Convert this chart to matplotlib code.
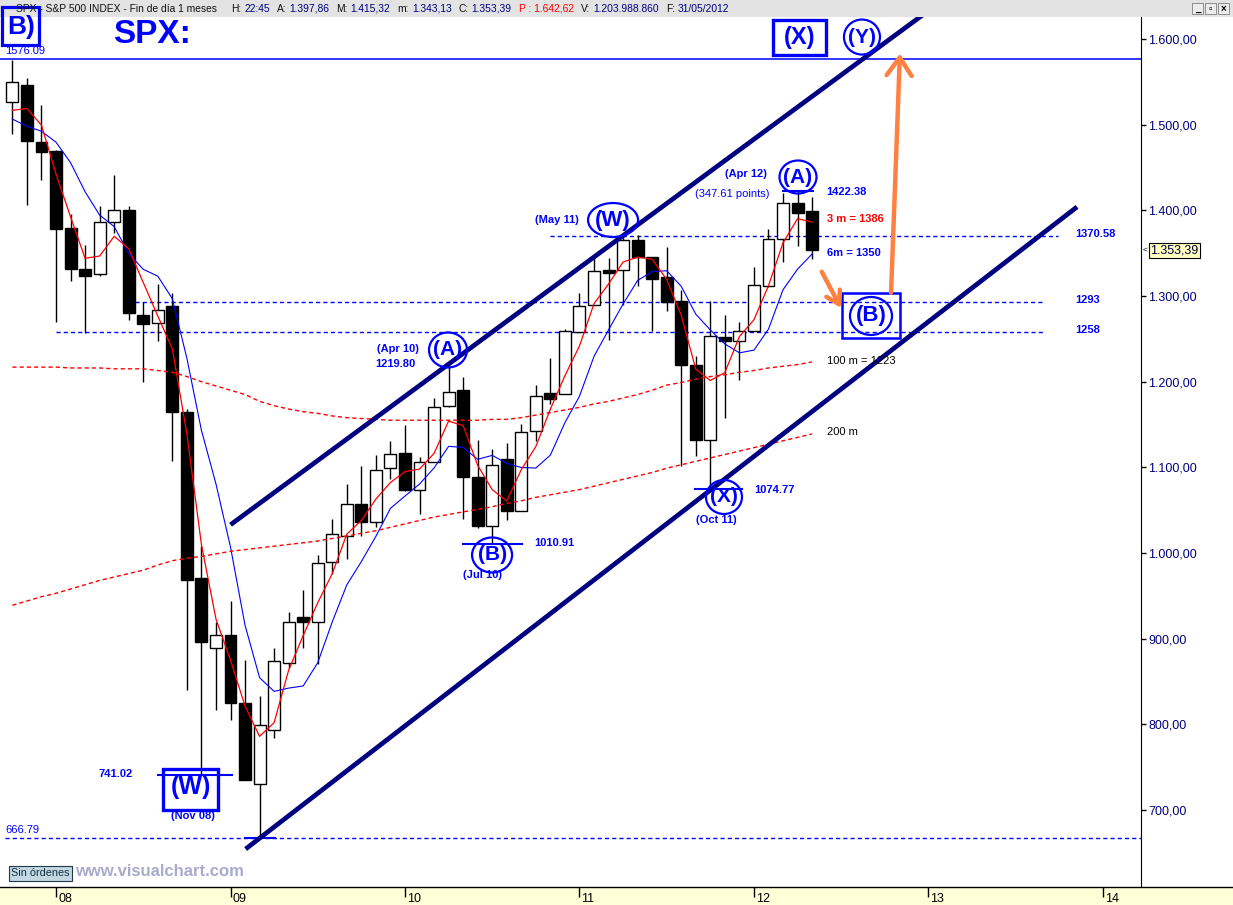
import numpy as np
import pandas as pd
import matplotlib
matplotlib.use('Agg')
import matplotlib.pyplot as plt
from matplotlib.patches import Rectangle, Ellipse
from matplotlib.lines import Line2D

plt.rcParams['font.family'] = ['Liberation Sans', 'DejaVu Sans']

# ---------------- data (monthly SPX candles, Oct 2007 .. May 2012) ----------------
months = pd.period_range('2007-10', '2012-05', freq='M').astype(str).tolist()
opens = [1527, 1546, 1479, 1468, 1379, 1331, 1326, 1386, 1400, 1277, 1269, 1288,
         1164, 970, 889, 903, 824, 730, 794, 872, 924, 920, 990, 1020,
         1056, 1036, 1099, 1116, 1074, 1106, 1172, 1189, 1088, 1031, 1109, 1049,
         1143, 1186, 1186, 1258, 1289, 1329, 1330, 1365, 1345, 1321, 1293, 1219,
         1132, 1251, 1247, 1259, 1312, 1366, 1408, 1397.86]
highs = [1576, 1554, 1523, 1471, 1396, 1360, 1405, 1441, 1405, 1293, 1314, 1303,
         1168, 1008, 919, 944, 875, 833, 889, 931, 957, 998, 1040, 1081,
         1102, 1114, 1131, 1150, 1112, 1181, 1220, 1205, 1132, 1121, 1129, 1151,
         1196, 1228, 1262, 1303, 1344, 1344, 1372, 1371, 1346, 1357, 1307, 1230,
         1294, 1278, 1270, 1334, 1378, 1420, 1422, 1415.32]
lows = [1489, 1406, 1435, 1270, 1317, 1257, 1323, 1373, 1272, 1200, 1248, 1107,
        840, 742, 817, 805, 735, 667, 784, 866, 889, 870, 976, 993,
        1020, 1030, 1086, 1072, 1045, 1106, 1170, 1040, 1029, 1011, 1039, 1049,
        1131, 1174, 1186, 1258, 1289, 1249, 1290, 1312, 1259, 1283, 1101, 1113,
        1075, 1158, 1202, 1259, 1311, 1340, 1358, 1343.13]
closes = [1549, 1481, 1468, 1378, 1331, 1323, 1386, 1400, 1280, 1267, 1283, 1165,
          969, 896, 904, 825, 735, 798, 873, 919, 919, 988, 1021, 1057,
          1036, 1096, 1115, 1074, 1105, 1170, 1187, 1089, 1031, 1102, 1049, 1141,
          1183, 1180, 1258, 1287, 1328, 1327, 1364, 1345, 1320, 1293, 1219, 1132,
          1253, 1247, 1258, 1312, 1366, 1408, 1397, 1353.39]
# closes Apr-Sep 2007 (needed for the start of the 3 and 6 month averages)
prior_closes = [1482, 1531, 1503, 1455, 1474, 1527]

# long averages ("100 m" and "200 m"), one value per candle
ma100 = [1217, 1217, 1217, 1217, 1216, 1216, 1216, 1215, 1215, 1215, 1213, 1211,
         1206, 1200, 1195, 1190, 1185, 1177, 1172, 1168, 1165, 1163, 1160, 1158,
         1157, 1156, 1155, 1155, 1155, 1155, 1155, 1155, 1155, 1156, 1156, 1158,
         1161, 1164, 1167, 1170, 1174, 1177, 1181, 1185, 1190, 1196, 1199, 1203,
         1206, 1208, 1211, 1213, 1216, 1218, 1220, 1223]
ma200 = [939, 944, 949, 953, 958, 963, 968, 972, 976, 980, 986, 991,
         994, 996, 999, 1002, 1004, 1006, 1008, 1010, 1012, 1014, 1017, 1020,
         1023, 1026, 1030, 1034, 1038, 1042, 1045, 1048, 1051, 1054, 1058, 1061,
         1065, 1068, 1071, 1074, 1078, 1082, 1086, 1090, 1094, 1099, 1103, 1107,
         1111, 1115, 1119, 1123, 1127, 1131, 1135, 1139]

year_ticks = [3, 15, 27, 39, 51, 63, 75]
year_labels = ['08', '09', '10', '11', '12', '13', '14']
price_ticks = [700, 800, 900, 1000, 1100, 1200, 1300, 1400, 1500, 1600]

# channel lines: (month index, price) anchors
upper_channel_x = [15.0, 62.6]
upper_channel_y = [1033, 1628]
lower_channel_x = [16.04, 73.22]
lower_channel_y = [654.5, 1404]

# ---------------- figure ----------------
W, H = 1233, 905
fig = plt.figure(figsize=(W / 100, H / 100), dpi=100)
fig.patch.set_facecolor('white')
AX_R, AX_B = 1141, 887
ax = fig.add_axes([0, 1 - AX_B / H, AX_R / W, AX_B / H])
PXM = 14.54      # pixels per month
PYP = 0.8567     # pixels per index point
ax.set_xlim(-12.4 / PXM, (AX_R - 12.4) / PXM)
ax.set_ylim(1600 - (AX_B - 39) / PYP, 1600 + 39 / PYP)

idx = np.arange(len(closes))
o = np.array(opens, float); h = np.array(highs, float)
l = np.array(lows, float); c = np.array(closes, float)

# wicks and bodies
ax.vlines(idx, l, h, color='black', lw=1, zorder=3)
up = c >= o
ax.bar(idx, np.abs(c - o) + 0.8, bottom=np.minimum(o, c), width=0.82,
       color=np.where(up, 'white', 'black'), edgecolor='black', lw=1, zorder=3.5)

# moving averages
allc = pd.Series(prior_closes + closes, dtype=float)
ma3 = allc.rolling(3).mean().values[len(prior_closes):]
ma6 = allc.rolling(6).mean().values[len(prior_closes):]
ax.plot(idx, ma6, color='#0000ff', lw=0.8, zorder=4)
ax.plot(idx, ma3, color='#ff0000', lw=0.9, zorder=4.2)
ax.plot(idx, ma100, color='#ff0000', lw=1, dashes=(3, 2.2), zorder=4)
ax.plot(idx, ma200, color='#ff0000', lw=1, dashes=(3, 2.2), zorder=4)

# levels
blue = '#0000ff'
ax.axhline(1576.09, color=blue, lw=1.1, zorder=2)
for lvl, x0, x1 in [(1370.58, 36.97, 71.9), (1293, 8.43, 70.9), (1258, 3.0, 70.9),
                    (666.79, -0.5, 77.6)]:
    ax.plot([x0, x1], [lvl, lvl], color=blue, lw=1, dashes=(3, 2.2), zorder=2.5)
for lvl, x0, x1 in [(741.02, 10.0, 15.1), (666.79, 16.0, 18.06), (1010.91, 31.0, 35.05),
                    (1074.77, 46.95, 50.18), (1422.38, 53.0, 55.06)]:
    ax.plot([x0, x1], [lvl, lvl], color=blue, lw=1.5, zorder=5)

# channels
navy = '#000080'
ax.plot(upper_channel_x, upper_channel_y, color=navy, lw=3.4, solid_capstyle='butt', zorder=6)
ax.plot(lower_channel_x, lower_channel_y, color=navy, lw=3.4, solid_capstyle='butt', zorder=6)

# ---------------- annotations ----------------
def ell(x, y, wpx, hpx):
    ax.add_patch(Ellipse((x, y), wpx / PXM, hpx / PYP, fill=False, ec=blue, lw=1.6, zorder=7))

def box(x0, x1, y0, y1, lw=2.2):
    ax.add_patch(Rectangle((x0, y0), x1 - x0, y1 - y0, fill=False, ec=blue, lw=lw,
                           zorder=7, clip_on=False))

def txt(x, y, s, size=8, bold=True, color=blue, ha='center'):
    ax.text(x, y, s, fontsize=size, fontweight='bold' if bold else 'normal', color=color,
            ha=ha, va='center', zorder=8)

# top
box(52.31, 55.96, 1581.3, 1622.2, lw=2.4)
txt(54.13, 1601.7, '(X)', size=17)
ell(58.43, 1602.3, 36, 35)
txt(58.43, 1602.3, '(Y)', size=15)
txt(9.6, 1605.8, 'SPX:', size=24)
txt(-0.51, 1586, '1576.09', bold=False, ha='left')

# (W) May 11
ell(41.31, 1388.7, 50, 34)
txt(41.31, 1388.7, '(W)', size=16)
txt(37.45, 1388.7, '(May 11)')
# (A) Apr 10
ell(29.96, 1237.0, 38, 35)
txt(29.96, 1237.0, '(A)', size=15)
txt(26.52, 1238.1, '(Apr 10)')
txt(26.31, 1220.3, '1219.80')
# (B) Jul 10
ell(32.99, 997.7, 40, 35)
txt(32.99, 997.7, '(B)', size=15)
txt(32.3, 974.3, '(Jul 10)')
txt(37.3, 1011.3, '1010.91')
# (X) Oct 11
ell(48.94, 1065.4, 36, 34)
txt(48.94, 1065.4, '(X)', size=15)
txt(48.39, 1038.5, '(Oct 11)')
txt(52.38, 1073.6, '1074.77')
# (A) Apr 12
ell(54.03, 1438.9, 37, 33)
txt(54.03, 1438.9, '(A)', size=15)
txt(50.45, 1442.1, '(Apr 12)')
txt(49.49, 1419.1, '(347.61 points)', bold=False)
txt(57.33, 1421.8, '1422.38')
txt(56.0, 1389.9, '3 m = 1386', color='#ff0000', ha='left')
txt(56.0, 1350.6, '6m = 1350', ha='left')
txt(73.08, 1372.4, '1370.58', ha='left')
txt(73.08, 1295.3, '1293', ha='left')
txt(73.08, 1260.3, '1258', ha='left')
txt(56.0, 1223.8, '100 m = 1223', bold=False, color='black', ha='left')
txt(56.0, 1141.6, '200 m', bold=False, color='black', ha='left')
# (B) target box
box(57.06, 61.05, 1251.0, 1303.5, lw=1.8)
ell(59.05, 1276.7, 42, 38)
txt(59.05, 1276.7, '(B)', size=16)
# (W) Nov 08
box(10.36, 14.14, 700.0, 747.9, lw=2.4)
txt(12.25, 726.9, '(W)', size=18)
txt(12.4, 692.5, '(Nov 08)')
txt(7.12, 742, '741.02')
txt(-0.51, 676.7, '666.79', bold=False, ha='left')

# orange arrows
orange = '#ff8040'
ax.annotate('', xy=(61.04, 1583), xytext=(60.43, 1303.9),
            arrowprops=dict(arrowstyle='->,head_length=1.3,head_width=0.9', color=orange,
                            lw=3.2, shrinkA=0, shrinkB=0), zorder=8)
ax.annotate('', xy=(56.99, 1286), xytext=(55.66, 1328.4),
            arrowprops=dict(arrowstyle='->,head_length=0.9,head_width=0.55', color=orange,
                            lw=3.2, shrinkA=0, shrinkB=0), zorder=8)

# ---------------- axes styling ----------------
for s in ['top', 'left']:
    ax.spines[s].set_visible(False)
ax.spines['right'].set_color('black')
ax.spines['bottom'].set_visible(False)
ax.yaxis.tick_right()
ax.set_yticks(price_ticks)
ax.set_yticklabels([f"{v:,.2f}".replace(',', 'X').replace('.', ',').replace('X', '.')
                    for v in price_ticks])
ax.tick_params(axis='y', direction='out', length=3.8, width=1, colors='black',
               labelcolor='#000080', labelsize=9, pad=1.5)
ax.set_xticks(year_ticks)
ax.set_xticklabels([''] * len(year_ticks))
ax.tick_params(axis='x', direction='out', length=7, width=1, colors='black')
for t, lab in zip(year_ticks, year_labels):
    ax.annotate(lab, xy=(t, 0), xycoords=ax.get_xaxis_transform(), xytext=(2, -6),
                textcoords='offset pixels', ha='left', va='top', fontsize=9,
                annotation_clip=False)

# last price tag
ax.annotate('1.353,39', xy=(1, 1353.39), xycoords=ax.get_yaxis_transform(),
            xytext=(9, 0), textcoords='offset pixels', ha='left', va='center',
            fontsize=9, color='#000040', annotation_clip=False,
            bbox=dict(boxstyle='square,pad=0.12', fc='#ffffc0', ec='black', lw=0.8))
ax.annotate('<', xy=(1, 1353.39), xycoords=ax.get_yaxis_transform(),
            xytext=(2, 0), textcoords='offset pixels', ha='left', va='center',
            fontsize=6, color='black', annotation_clip=False)

# ---------------- figure-level decorations ----------------
def fx(x): return x / W
def fy(y): return 1 - y / H

# bottom band
fig.patches.append(Rectangle((0, 0), 1, (H - AX_B) / H, transform=fig.transFigure,
                             fc='#ffffd8', ec='none', zorder=-1))
fig.lines.append(Line2D([0, 1], [fy(AX_B), fy(AX_B)], transform=fig.transFigure,
                        color='black', lw=1, zorder=2))

# "Sin órdenes" button and watermark
fig.patches.append(Rectangle((fx(9), fy(881)), 63 / W, 15 / H, transform=fig.transFigure,
                             fc='#c4d8e4', ec='#203848', lw=0.8, zorder=2))
fig.text(fx(40.5), fy(873), 'Sin órdenes', fontsize=7.8, color='#103040', ha='center',
         va='center', zorder=3)
fig.text(fx(75), fy(871), 'www.visualchart.com', fontsize=12, fontweight='bold',
         color='#aaaacc', ha='left', va='center', zorder=3)

# header bar
fig.patches.append(Rectangle((0, fy(17)), 1, 17 / H, transform=fig.transFigure,
                             fc='#e3e3e3', ec='none', zorder=1))
renderer = fig.canvas.get_renderer()
dark, val, red = '#101010', '#000080', '#ff0000'
segs = [('SPX - S&P 500 INDEX - Fin de día 1 meses', dark, 14),
        ('H:', dark, 3), ('22:45', val, 7), ('A:', dark, 3), ('1.397,86', val, 7),
        ('M:', dark, 3), ('1.415,32', val, 7), ('m:', dark, 3), ('1.343,13', val, 7),
        ('C:', dark, 3), ('1.353,39', val, 7), ('P : 1.642,62', red, 7),
        ('V:', dark, 3), ('1.203.988.860', val, 7), ('F:', dark, 3), ('31/05/2012', val, 0)]
xcur = 16
for s, col, gap in segs:
    t = fig.text(fx(xcur), fy(8.5), s, fontsize=7.4, color=col, ha='left', va='center', zorder=3)
    xcur += t.get_window_extent(renderer).width + gap

# window buttons
for bx, g in [(1192, '_'), (1205, '▫'), (1218, '×')]:
    fig.patches.append(Rectangle((fx(bx), fy(14)), 11 / W, 11 / H, transform=fig.transFigure,
                                 fc='#ececec', ec='#808080', lw=0.6, zorder=2))
    fig.text(fx(bx + 5.5), fy(8.5), g, fontsize=7, color='black', ha='center', va='center',
             zorder=3, fontweight='bold')

# B) box at top-left
fig.patches.append(Rectangle((fx(2), fy(45)), 37 / W, 38 / H, transform=fig.transFigure,
                             fill=False, ec=blue, lw=2.3, zorder=2))
fig.text(fx(21), fy(27), 'B)', fontsize=19, fontweight='bold', color=blue,
         ha='center', va='center', zorder=3)

fig.savefig('out.png', dpi=100)
